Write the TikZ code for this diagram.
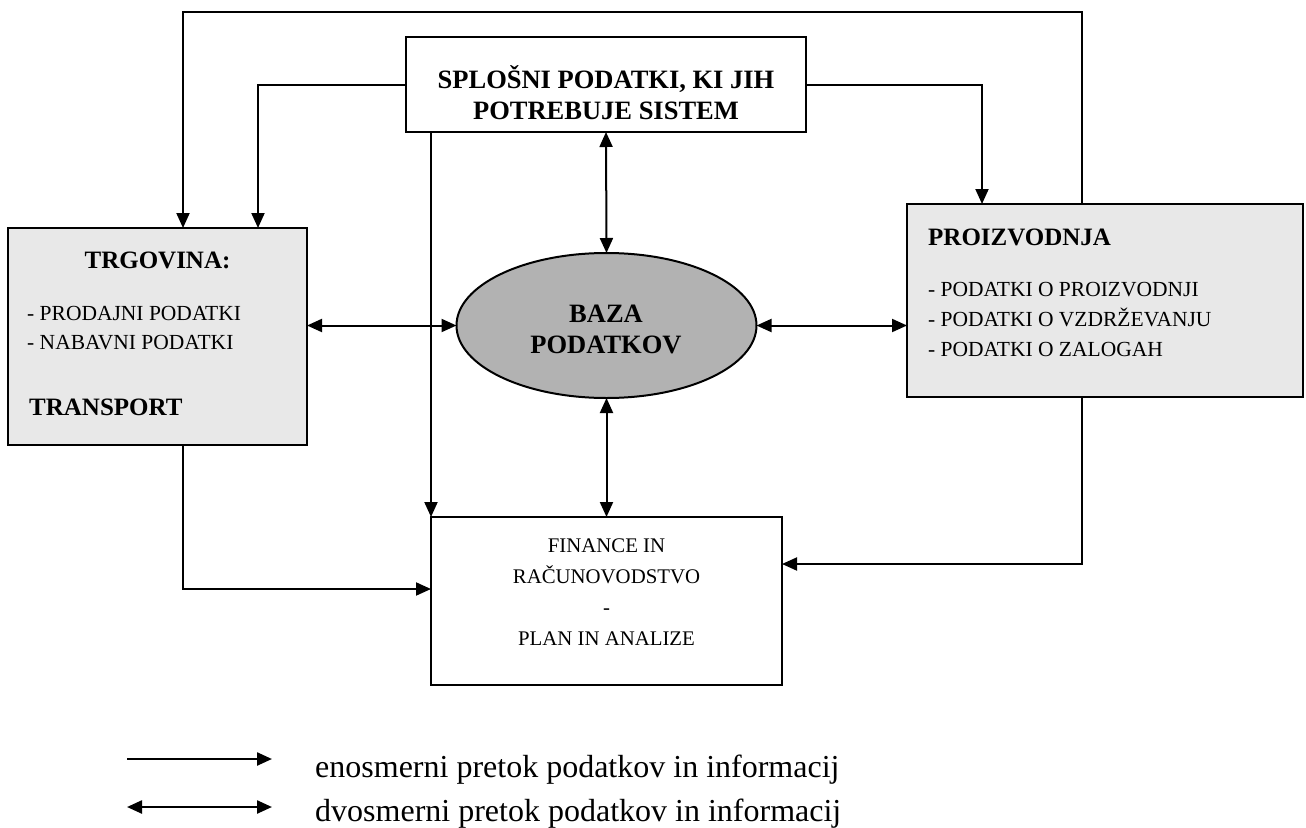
\documentclass[tikz,border=0pt]{standalone}
\usepackage{fontspec}
\setmainfont{Liberation Serif}
\usetikzlibrary{shapes.geometric,arrows.meta}
\definecolor{boxgray}{RGB}{232,232,232}
\definecolor{ellgray}{RGB}{178,178,178}
\begin{document}
\begin{tikzpicture}[x=1pt,y=-1pt,
  box/.style={draw,line width=2pt,inner sep=0pt,outer sep=0pt,rectangle},
  gbox/.style={box,fill=boxgray},
  ln/.style={line width=2pt},
  tip/.tip={Triangle[length=15pt,width=13pt]},
  arr/.style={ln,-tip},
  dbl/.style={ln,tip-tip},
  bt/.style={font=\fontsize{25}{30}\selectfont\bfseries,inner sep=0pt},
  btl/.style={font=\fontsize{26.5}{31}\selectfont\bfseries,inner sep=0pt},
  it/.style={font=\fontsize{21.5}{26}\selectfont,inner sep=0pt},
  ft/.style={font=\fontsize{20.8}{25}\selectfont,inner sep=0pt},
  lt/.style={font=\fontsize{32}{37}\selectfont,inner sep=0pt}
]
\useasboundingbox (0,0) rectangle (1306,827);

% boxes
\node[box,minimum width=400pt,minimum height=95pt] (spl) at (606,84.5) {};
\node[gbox,minimum width=299pt,minimum height=217pt] (trg) at (157.5,336.5) {};
\node[gbox,minimum width=396pt,minimum height=193pt] (proiz) at (1105,300.5) {};
\node[box,minimum width=351pt,minimum height=168pt] (fin) at (606.5,601) {};
\node[draw,ellipse,line width=2pt,fill=ellgray,minimum width=300pt,minimum height=145pt,inner sep=0pt,outer sep=0pt] (baza) at (606.5,325.5) {};

% texts
\node[btl,anchor=base] (spl1) at (606,88) {SPLOŠNI PODATKI, KI JIH};
\node[btl,anchor=base] (spl2) at (606,119) {POTREBUJE SISTEM};
\node[btl,anchor=base] (baza1) at (606,322) {BAZA};
\node[btl,anchor=base] (baza2) at (606,353) {PODATKOV};
\node[bt,anchor=base] (trgt) at (157.5,268) {TRGOVINA:};
\node[it,anchor=base west] (trg1) at (27,320) {- PRODAJNI PODATKI};
\node[it,anchor=base west] (trg2) at (27,349) {- NABAVNI PODATKI};
\node[bt,anchor=base west] (trgt2) at (29,415) {TRANSPORT};
\node[bt,anchor=base west] (prt) at (928,245) {PROIZVODNJA};
\node[it,anchor=base west] (pr1) at (928,296) {- PODATKI O PROIZVODNJI};
\node[it,anchor=base west] (pr2) at (928,326) {- PODATKI O VZDRŽEVANJU};
\node[it,anchor=base west] (pr3) at (928,356) {- PODATKI O ZALOGAH};
\node[ft,anchor=base] (fin1) at (606.5,552) {FINANCE IN};
\node[ft,anchor=base] (fin2) at (606.5,583) {RAČUNOVODSTVO};
\node[ft,anchor=base] (fin3) at (606.5,614) {-};
\node[ft,anchor=base] (fin4) at (606.5,645) {PLAN IN ANALIZE};

% helper coordinates
\coordinate (xR) at (1082,0);
\coordinate (topL) at (183,12);
\coordinate (x258) at (258,0);
\coordinate (x982) at (982,0);
\coordinate (trgB) at (183,589);
\coordinate (prB) at (1082,564);

% connectors
\draw[arr] (proiz.north -| xR) |- (topL) -- (trg.north -| topL);
\draw[arr] (spl.west) -| (trg.north -| x258);
\draw[arr] (spl.east) -| (proiz.north -| x982);
\draw[arr] (spl.south -| fin.north west) -- (fin.north west);
\draw[dbl] (spl.south) -- (baza.north);
\draw[dbl] (trg.east |- baza.west) -- (baza.west);
\draw[dbl] (baza.east) -- (proiz.west |- baza.east);
\draw[dbl] (baza.south) -- (fin.north -| baza.south);
\draw[arr] (trg.south -| trgB) |- (fin.west |- trgB);
\draw[arr] (proiz.south -| prB) |- (fin.east |- prB);

% legend
\coordinate (l1a) at (127,759);
\coordinate (l1b) at (272,759);
\coordinate (l2a) at (127,807);
\coordinate (l2b) at (272,807);
\draw[arr,line width=2.4pt] (l1a) -- (l1b);
\draw[dbl,line width=2.4pt] (l2a) -- (l2b);
\node[lt,anchor=base west] (leg1) at (315,777) {enosmerni pretok podatkov in informacij};
\node[lt,anchor=base west] (leg2) at (315,821) {dvosmerni pretok podatkov in informacij};
\end{tikzpicture}
\end{document}
